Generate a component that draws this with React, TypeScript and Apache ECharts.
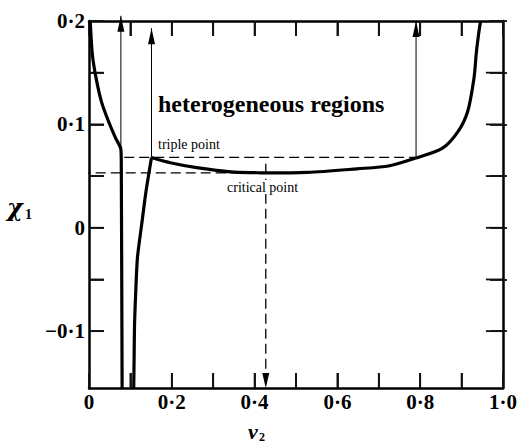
import React, { useEffect, useRef } from 'react';
import * as echarts from 'echarts';

// Phase diagram: interaction parameter χ1 against volume fraction v2.

// Left (solvent-rich) branch: falls from the top-left corner, then drops vertically
const leftBranchV2 = [0.003, 0.008, 0.017, 0.03, 0.047, 0.064, 0.077, 0.078, 0.08];
const leftBranchChi = [0.2, 0.168, 0.145, 0.122, 0.103, 0.087, 0.076, 0.06, -0.155];

// Steep rise of the second branch up to the triple point
const riseV2 = [0.108, 0.109, 0.11, 0.113, 0.117, 0.1275, 0.138, 0.151];
const riseChi = [-0.155, -0.125, -0.093, -0.061, -0.029, 0.004, 0.036, 0.068];

// Coexistence curve from the triple point through the critical point to the top
const upperV2 = [0.151, 0.199, 0.264, 0.343, 0.408, 0.427, 0.527, 0.647, 0.726, 0.79, 0.854, 0.892, 0.915, 0.93, 0.936, 0.943, 0.946];
const upperChi = [0.068, 0.0627, 0.0579, 0.054, 0.0532, 0.053, 0.0535, 0.057, 0.06, 0.0675, 0.077, 0.0935, 0.113, 0.145, 0.171, 0.193, 0.2];

// Triple point and critical point
const tripleChi = 0.068;
const tripleDashV2 = [0.085, 0.79];
const criticalV2 = 0.427;
const criticalChi = 0.053;
const criticalDashStartV2 = -0.02;
const criticalDashTopChi = 0.062;

// Thin tie-lines with arrow heads pointing to the top edge
const arrowV2 = [0.077, 0.151, 0.79];
const arrowBaseChi = [0.076, 0.068, 0.068];
const arrowTipChi = [0.205, 0.193, 0.2];

// Axis ranges, tick marks and labels
const xMin = 0;
const xMax = 1;
const xTickStep = 0.1;
const xLabelStep = 0.2;
const xTickValues = [0.1, 0.2, 0.3, 0.4, 0.5, 0.6, 0.7, 0.8, 0.9];
const yMin = -0.155;
const yMax = 0.2;
const yLabelMin = -0.1;
const yTickStep = 0.05;
const yLabelStep = 0.1;
const yTickValues = [-0.1, -0.05, 0, 0.05, 0.1, 0.15];

const SERIF = '"Liberation Serif", "Times New Roman", serif';

// Outer box, and a label frame that ends at the lowest labelled value
const FRAME = { left: 89, top: 21, width: 418, height: 367 };
const labelFrameHeight = (FRAME.height * (yMax - yLabelMin)) / (yMax - yMin);

// Tick lengths (15 px) expressed in each axis' units
const TICK_PX = 15;
const TICK_WIDTH = 1.8;
const tickChi = (TICK_PX * (yMax - yMin)) / FRAME.height;
const tickV2 = (TICK_PX * (xMax - xMin)) / FRAME.width;

const isMultiple = (v: number, step: number) => Math.abs(v / step - Math.round(v / step)) < 1e-6;

const fmt = (v: number) => {
  if (Math.abs(v) < 1e-9) return '0';
  const s = Math.abs(v).toFixed(1).replace('.', '·');
  return v < 0 ? '−' + s : s;
};

const zip = (xs: number[], ys: number[]) => xs.map((x, i) => [x, ys[i]]);

const tickSegment = (a: number[], b: number[]) => ({
  type: 'line' as const,
  clip: false,
  silent: true,
  z: 4,
  showSymbol: false,
  lineStyle: { color: '#111', width: TICK_WIDTH },
  data: [a, b],
});

const tickSeries = [
  ...xTickValues.map((v) => tickSegment([v, yMin], [v, yMin + tickChi])),
  ...xTickValues.map((v) => tickSegment([v, yMax], [v, yMax - tickChi])),
  ...yTickValues.map((v) => tickSegment([xMin, v], [xMin + tickV2, v])),
  ...yTickValues.map((v) => tickSegment([xMax, v], [xMax - tickV2 * 1.15, v])),
];

export default function App() {
  const ref = useRef<HTMLDivElement>(null);

  useEffect(() => {
    if (!ref.current) return;
    const chart = echarts.init(ref.current, null, { renderer: 'svg' });

    const axisLine = { show: true, onZero: false, lineStyle: { color: '#000', width: 2.5 } };
    const labelStyle = {
      color: '#000',
      fontFamily: SERIF,
      fontWeight: 'bold' as const,
      fontSize: 21,
    };
    const axisTick = (length: number) => ({
      show: true,
      inside: true,
      length,
      lineStyle: { color: '#111', width: TICK_WIDTH },
    });

    const thick = { color: '#000', width: 3.2 };
    const dashed = { color: '#000', width: 1.3, type: [10, 5] as number[] };

    const arrowSeries = arrowV2.map((x, i) => ({
      type: 'line' as const,
      clip: false,
      silent: true,
      z: 4,
      lineStyle: { color: '#000', width: 1 },
      showSymbol: true,
      data: [
        { value: [x, arrowBaseChi[i]], symbol: 'none' },
        {
          value: [x, arrowTipChi[i]],
          symbol: 'triangle',
          symbolSize: [7, 16],
          symbolOffset: [0, 8],
          itemStyle: { color: '#000' },
        },
      ],
    }));

    chart.setOption({
      animation: false,
      backgroundColor: '#fff',
      grid: [
        { ...FRAME, containLabel: false },
        {
          left: FRAME.left,
          top: FRAME.top,
          width: FRAME.width,
          height: labelFrameHeight,
          containLabel: false,
        },
      ],
      xAxis: [
        {
          type: 'value',
          gridIndex: 0,
          position: 'bottom',
          min: xMin,
          max: xMax,
          interval: xTickStep,
          axisLine,
          axisTick: axisTick(TICK_PX),
          axisLabel: {
            ...labelStyle,
            margin: 3,
            formatter: (v: number) => (isMultiple(v, xLabelStep) ? fmt(v) : ''),
          },
          splitLine: { show: false },
        },
        {
          type: 'value',
          gridIndex: 0,
          position: 'top',
          min: xMin,
          max: xMax,
          interval: xTickStep,
          axisLine,
          axisTick: axisTick(TICK_PX),
          axisLabel: { show: false },
          splitLine: { show: false },
        },
        { type: 'value', gridIndex: 1, min: xMin, max: xMax, show: false },
      ],
      yAxis: [
        {
          type: 'value',
          gridIndex: 0,
          position: 'left',
          min: yMin,
          max: yMax,
          axisLine,
          axisTick: { show: false },
          axisLabel: { show: false },
          splitLine: { show: false },
        },
        {
          type: 'value',
          gridIndex: 0,
          position: 'right',
          min: yMin,
          max: yMax,
          axisLine,
          axisTick: { show: false },
          axisLabel: { show: false },
          splitLine: { show: false },
        },
        {
          type: 'value',
          gridIndex: 1,
          position: 'left',
          min: yLabelMin,
          max: yMax,
          interval: yTickStep,
          axisLine: { show: false },
          axisTick: axisTick(TICK_PX),
          axisLabel: {
            ...labelStyle,
            margin: 4,
            formatter: (v: number) => (isMultiple(v, yLabelStep) ? fmt(v) : ''),
          },
          splitLine: { show: false },
        },
        {
          type: 'value',
          gridIndex: 1,
          position: 'right',
          min: yLabelMin,
          max: yMax,
          interval: yTickStep,
          axisLine: { show: false },
          axisTick: axisTick(TICK_PX + 2),
          axisLabel: { show: false },
          splitLine: { show: false },
        },
      ],
      series: [
        ...tickSeries,
        {
          type: 'line',
          name: 'left branch',
          data: zip(leftBranchV2, leftBranchChi),
          showSymbol: false,
          smooth: 0.25,
          lineStyle: thick,
          z: 5,
        },
        {
          type: 'line',
          name: 'rise',
          data: zip(riseV2, riseChi),
          showSymbol: false,
          smooth: 0.25,
          lineStyle: thick,
          z: 5,
        },
        {
          type: 'line',
          name: 'coexistence',
          data: zip(upperV2, upperChi),
          showSymbol: false,
          smooth: 0.3,
          lineStyle: thick,
          z: 5,
        },
        {
          type: 'line',
          name: 'triple line',
          data: tripleDashV2.map((x) => [x, tripleChi]),
          showSymbol: false,
          lineStyle: dashed,
          z: 3,
        },
        {
          type: 'line',
          name: 'critical line',
          clip: false,
          data: [
            [criticalDashStartV2, criticalChi],
            [criticalV2, criticalChi],
          ],
          showSymbol: false,
          lineStyle: dashed,
          z: 3,
        },
        {
          type: 'line',
          name: 'critical drop',
          clip: false,
          lineStyle: dashed,
          z: 3,
          data: [
            { value: [criticalV2, criticalDashTopChi], symbol: 'none' },
            {
              value: [criticalV2, yMin],
              symbol: 'triangle',
              symbolSize: [7, 15],
              symbolRotate: 180,
              symbolOffset: [0, -7.5],
              itemStyle: { color: '#000' },
            },
          ],
        },
        ...arrowSeries,
      ],
      graphic: [
        {
          type: 'text',
          x: 158,
          y: 104,
          z: 10,
          style: {
            text: 'heterogeneous regions',
            font: `bold 24px ${SERIF}`,
            fill: '#000',
            textVerticalAlign: 'middle',
          },
        },
        {
          type: 'text',
          x: 158,
          y: 144,
          z: 10,
          style: { text: 'triple point', font: `14px ${SERIF}`, fill: '#000', textVerticalAlign: 'middle' },
        },
        {
          type: 'text',
          x: 227,
          y: 187,
          z: 10,
          style: {
            text: 'critical point',
            font: `14px ${SERIF}`,
            fill: '#000',
            backgroundColor: '#fff',
            textVerticalAlign: 'middle',
          },
        },
        {
          type: 'text',
          x: 7,
          y: 207,
          z: 10,
          style: {
            text: 'χ',
            font: `italic bold 24px "DejaVu Serif", serif`,
            fill: '#000',
            textVerticalAlign: 'middle',
          },
        },
        {
          type: 'text',
          x: 25,
          y: 214,
          z: 10,
          style: { text: '1', font: `bold 14px ${SERIF}`, fill: '#000', textVerticalAlign: 'middle' },
        },
        {
          type: 'text',
          x: 248,
          y: 431,
          z: 10,
          style: { text: 'v', font: `italic bold 22px ${SERIF}`, fill: '#000', textVerticalAlign: 'middle' },
        },
        {
          type: 'text',
          x: 259,
          y: 437,
          z: 10,
          style: { text: '2', font: `bold 12px ${SERIF}`, fill: '#000', textVerticalAlign: 'middle' },
        },
      ],
    });

    return () => chart.dispose();
  }, []);

  return (
    <div
      ref={ref}
      style={{ position: 'fixed', left: 0, top: 0, width: 520, height: 444, background: '#fff' }}
    />
  );
}
